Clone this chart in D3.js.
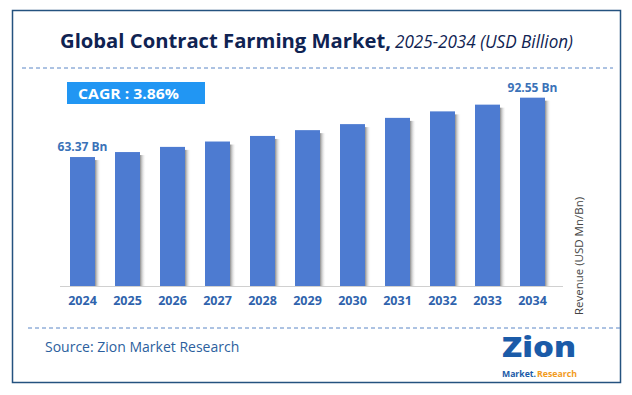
<!DOCTYPE html>
<meta charset="utf-8">
<html>
<head>
<title>Global Contract Farming Market</title>
<script src="https://cdn.jsdelivr.net/npm/d3@7"></script>
<style>
body { margin: 0; background: #fff; }
svg text { font-family: "Open Sans", "Liberation Sans", sans-serif; }
</style>
</head>
<body>
<div id="chart"></div>
<script>
// data
var years = ["2024", "2025", "2026", "2027", "2028", "2029", "2030", "2031", "2032", "2033", "2034"];
var revenue = [63.37, 65.82, 68.36, 71.00, 73.74, 76.59, 79.55, 82.62, 85.81, 89.12, 92.55];
var cagrText = "CAGR :  3.86%";
var valueLabels = { "2024": "63.37 Bn", "2034": "92.55 Bn" };

var W = 632, H = 395;
var svg = d3.select("#chart").append("svg").attr("width", W).attr("height", H);

// outer frame
svg.append("rect").attr("x", 12.5).attr("y", 10.5).attr("width", 608).attr("height", 372)
   .attr("fill", "#fff").attr("stroke", "#24527f").attr("stroke-width", 1.5);

// title
var title = svg.append("text").attr("x", 60).attr("y", 48).attr("fill", "#0f2352");
title.append("tspan").text("Global Contract Farming Market,")
   .style("font-weight", "700").style("font-size", "20px")
   .attr("textLength", 331).attr("lengthAdjust", "spacingAndGlyphs");
title.append("tspan").attr("x", 395).text("2025-2034 (USD Billion)")
   .style("font-style", "italic").style("font-size", "18px")
   .attr("textLength", 178).attr("lengthAdjust", "spacingAndGlyphs");

// dashed separators
svg.append("line").attr("x1", 22).attr("x2", 613).attr("y1", 68).attr("y2", 68)
   .attr("stroke", "#5a86c6").attr("stroke-width", 1).attr("stroke-dasharray", "4,3");
svg.append("line").attr("x1", 28).attr("x2", 621).attr("y1", 328).attr("y2", 328)
   .attr("stroke", "#5a86c6").attr("stroke-width", 1).attr("stroke-dasharray", "4,3");

// CAGR badge
svg.append("rect").attr("x", 67).attr("y", 82).attr("width", 138).attr("height", 22).attr("fill", "#2196f3");
svg.append("text").attr("x", 78).attr("y", 99).text(cagrText)
   .attr("fill", "#fff").style("font-weight", "700").style("font-size", "15px")
   .attr("textLength", 101).attr("lengthAdjust", "spacingAndGlyphs");

// scales
var x = d3.scaleBand().domain(years).range([60, 555]).paddingInner(0.4444).paddingOuter(0.2222);
var y = d3.scaleLinear().domain([0, 100]).range([286, 82.5]);

// bar shadows
var defs = svg.append("defs");
var grad = defs.append("linearGradient").attr("id", "shadow");
grad.append("stop").attr("offset", "0%").attr("stop-color", "#8c8c8c");
grad.append("stop").attr("offset", "100%").attr("stop-color", "#ffffff").attr("stop-opacity", 0);

var rows = years.map(function (d, i) { return { year: d, value: revenue[i] }; });

svg.append("g").selectAll("rect").data(rows).enter().append("rect")
   .attr("x", function (d) { return x(d.year) + x.bandwidth(); })
   .attr("y", function (d) { return y(d.value) + 3; })
   .attr("width", 6)
   .attr("height", function (d) { return y(0) - y(d.value) - 3; })
   .attr("fill", "url(#shadow)");

svg.append("g").selectAll("rect").data(rows).enter().append("rect")
   .attr("x", function (d) { return x(d.year); })
   .attr("y", function (d) { return y(d.value); })
   .attr("width", x.bandwidth())
   .attr("height", function (d) { return y(0) - y(d.value); })
   .attr("fill", "#4d7bd1");

// axis
var xAxis = svg.append("g").attr("transform", "translate(0,286)")
   .call(d3.axisBottom(x).tickSize(0).tickPadding(10));
xAxis.select(".domain").attr("d", "M60,0.5H563").attr("stroke", "#d0d0d0").attr("stroke-width", 1.2);
xAxis.selectAll("text").attr("fill", "#2f63ad")
   .style("font-family", "'Liberation Sans Narrow', 'Open Sans', sans-serif")
   .style("font-weight", "700").style("font-size", "12.5px");

// value labels on first and last bars
svg.append("g").selectAll("text").data(rows.filter(function (d) { return valueLabels[d.year]; }))
   .enter().append("text")
   .attr("x", function (d) { return x(d.year) + x.bandwidth() / 2; })
   .attr("y", function (d) { return y(d.value) - 6; })
   .attr("text-anchor", "middle")
   .attr("fill", "#3a72b8")
   .style("font-weight", "700").style("font-size", "12px")
   .text(function (d) { return valueLabels[d.year]; });

// y axis caption
svg.append("text").attr("transform", "translate(583,256) rotate(-90)")
   .attr("text-anchor", "middle").attr("fill", "#444")
   .style("font-size", "11.5px").text("Revenue (USD Mn/Bn)");

// source
svg.append("text").attr("x", 45).attr("y", 352).attr("fill", "#2c5f9e")
   .style("font-size", "14px").text("Source: Zion Market Research");

// logo
var logo = svg.append("g");
logo.append("text").attr("x", 502).attr("y", 357).attr("fill", "#1b5ba8")
   .style("font-weight", "800").style("font-size", "28px").attr("textLength", 74)
   .attr("lengthAdjust", "spacingAndGlyphs").text("Zion");
logo.append("text").attr("x", 502).attr("y", 377).attr("fill", "#1b5ba8")
   .style("font-weight", "700").style("font-size", "9px")
   .attr("textLength", 34).attr("lengthAdjust", "spacingAndGlyphs").text("Market.");
logo.append("text").attr("x", 537).attr("y", 377).attr("fill", "#f29b1e")
   .style("font-weight", "700").style("font-size", "9px")
   .attr("textLength", 40).attr("lengthAdjust", "spacingAndGlyphs").text("Research");
</script>
</body>
</html>
